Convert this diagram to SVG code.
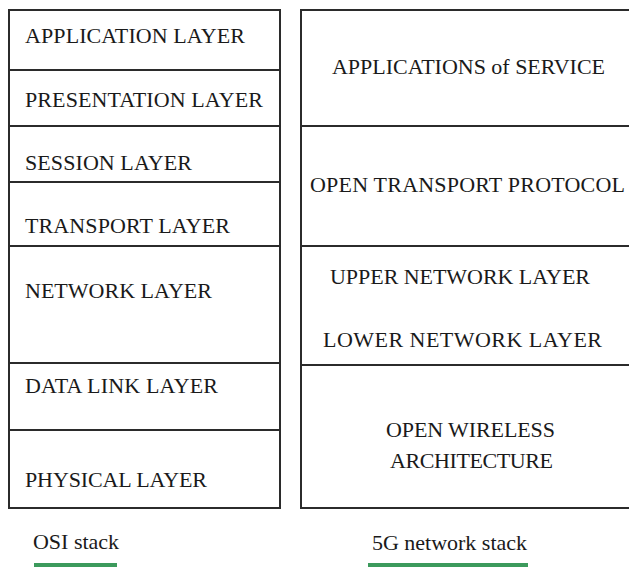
<svg xmlns="http://www.w3.org/2000/svg" width="629" height="567" viewBox="0 0 629 567">
<style>
.box{fill:none;stroke:#2b2b2b;stroke-width:2}
.t{font-family:'Liberation Serif','Times New Roman',serif;font-size:22px;fill:#1a1a1a}
.u{stroke:#3c9a5c;stroke-width:4}
</style>
<rect width="629" height="567" fill="#ffffff"/>
<g id="osi-stack">
<rect class="box" x="9" y="10" width="271" height="498"/>
<g id="osi-application"><text class="t" x="25" y="43" textLength="220">APPLICATION LAYER</text></g>
<g id="osi-presentation"><line class="box" x1="9" y1="70" x2="280" y2="70"/><text class="t" x="25" y="107" textLength="238">PRESENTATION LAYER</text></g>
<g id="osi-session"><line class="box" x1="9" y1="126" x2="280" y2="126"/><text class="t" x="25" y="170" textLength="167">SESSION LAYER</text></g>
<g id="osi-transport"><line class="box" x1="9" y1="182" x2="280" y2="182"/><text class="t" x="25" y="233" textLength="205">TRANSPORT LAYER</text></g>
<g id="osi-network"><line class="box" x1="9" y1="246" x2="280" y2="246"/><text class="t" x="25" y="298" textLength="187">NETWORK LAYER</text></g>
<g id="osi-datalink"><line class="box" x1="9" y1="363" x2="280" y2="363"/><text class="t" x="25" y="393" textLength="193">DATA LINK LAYER</text></g>
<g id="osi-physical"><line class="box" x1="9" y1="430" x2="280" y2="430"/><text class="t" x="25" y="487" textLength="182">PHYSICAL LAYER</text></g>
</g>
<g id="g5-stack">
<path class="box" d="M629 10 H301 V508 H629"/>
<g id="g5-applications"><text class="t" x="332" y="74" textLength="273">APPLICATIONS of SERVICE</text></g>
<g id="g5-transport"><line class="box" x1="301" y1="126" x2="629" y2="126"/><text class="t" x="310" y="192" textLength="315">OPEN TRANSPORT PROTOCOL</text></g>
<g id="g5-network"><line class="box" x1="301" y1="246" x2="629" y2="246"/><text class="t" x="330" y="284" textLength="260">UPPER NETWORK LAYER</text><text class="t" x="323" y="347" textLength="279">LOWER NETWORK LAYER</text></g>
<g id="g5-wireless"><line class="box" x1="301" y1="365" x2="629" y2="365"/><text class="t" x="386" y="437" textLength="169">OPEN WIRELESS</text><text class="t" x="390" y="468" textLength="163">ARCHITECTURE</text></g>
</g>
<g id="captions">
<text class="t" x="33" y="549" textLength="86">OSI stack</text>
<line class="u" x1="34" y1="565" x2="117" y2="565"/>
<text class="t" x="372" y="550" textLength="155">5G network stack</text>
<line class="u" x1="368" y1="565" x2="528" y2="565"/>
</g>
</svg>
